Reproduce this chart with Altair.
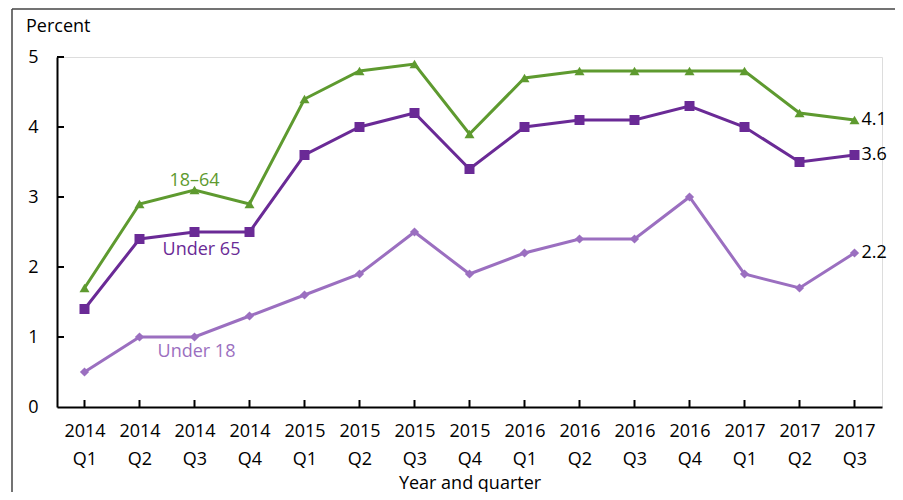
import altair as alt
import pandas as pd

quarters = ["2014 Q1", "2014 Q2", "2014 Q3", "2014 Q4",
            "2015 Q1", "2015 Q2", "2015 Q3", "2015 Q4",
            "2016 Q1", "2016 Q2", "2016 Q3", "2016 Q4",
            "2017 Q1", "2017 Q2", "2017 Q3"]
age_18_64 = [1.7, 2.9, 3.1, 2.9, 4.4, 4.8, 4.9, 3.9, 4.7, 4.8, 4.8, 4.8, 4.8, 4.2, 4.1]
under_65 = [1.4, 2.4, 2.5, 2.5, 3.6, 4.0, 4.2, 3.4, 4.0, 4.1, 4.1, 4.3, 4.0, 3.5, 3.6]
under_18 = [0.5, 1.0, 1.0, 1.3, 1.6, 1.9, 2.5, 1.9, 2.2, 2.4, 2.4, 3.0, 1.9, 1.7, 2.2]
y_ticks = [0, 1, 2, 3, 4, 5]

series_names = ["18–64", "Under 65", "Under 18"]
series_vals = [age_18_64, under_65, under_18]
colors = ["#5e9a2f", "#6a2a96", "#9b6fc0"]
shapes = ["triangle-up", "square", "diamond"]
sizes = [100, 100, 85]

FONT = "Open Sans"
FS = 18
W, H = 825, 350

xscale = alt.Scale(type="point", domain=quarters, padding=0.5)
xenc = alt.X("q:N", sort=quarters, scale=xscale,
             axis=alt.Axis(title="Year and quarter", labelExpr="split(datum.label, ' ')",
                           labelAngle=0, labelFontSize=FS, labelLineHeight=28,
                           labelPadding=15, labelBaseline="top", labelColor="black",
                           labelFont=FONT, ticks=False, domainColor="black",
                           domainWidth=2, titleFont=FONT, titleFontSize=FS,
                           titleFontWeight="normal", titlePadding=6, titleColor="black",
                           labelFlush=False, labelOverlap=False))
yscale = alt.Scale(domain=[0, 5], nice=False)

layers = []
for name, vals, c, sh, sz in zip(series_names, series_vals, colors, shapes, sizes):
    df = pd.DataFrame({"q": quarters, "v": vals})
    base = alt.Chart(df)
    line = base.mark_line(color=c, strokeWidth=3).encode(
        x=xenc,
        y=alt.Y("v:Q", scale=yscale,
                axis=alt.Axis(title=None, values=y_ticks, ticks=False, grid=False, format="d",
                              labelFontSize=FS, labelFont=FONT, labelColor="black",
                              labelPadding=19, domainColor="black", domainWidth=2)))
    pts = base.mark_point(shape=sh, filled=True, opacity=1, color=c, size=sz).encode(
        x=alt.X("q:N", sort=quarters, scale=xscale), y=alt.Y("v:Q", scale=yscale))
    layers += [line, pts]

# end labels
end_df = pd.DataFrame({"q": [quarters[-1]] * 3,
                       "v": [age_18_64[-1], under_65[-1], under_18[-1]],
                       "t": [f"{age_18_64[-1]:.1f}", f"{under_65[-1]:.1f}", f"{under_18[-1]:.1f}"]})
layers.append(alt.Chart(end_df).mark_text(align="left", baseline="middle", dx=7,
                                          fontSize=FS, font=FONT, color="black").encode(
    x=alt.X("q:N", sort=quarters, scale=xscale), y=alt.Y("v:Q", scale=yscale), text="t:N"))

# series labels
lab_q = ["2014 Q3", "2014 Q3", "2014 Q3"]
lab_v = [3.23, 2.24, 0.79]
lab_dx = [0, 7, 2]
for name, q, v, c, dx in zip(series_names, lab_q, lab_v, colors, lab_dx):
    ldf = pd.DataFrame({"q": [q], "v": [v], "t": [name]})
    layers.append(alt.Chart(ldf).mark_text(align="center", baseline="middle", dx=dx,
                                           fontSize=FS, font=FONT, color=c).encode(
        x=alt.X("q:N", sort=quarters, scale=xscale), y=alt.Y("v:Q", scale=yscale), text="t:N"))

# inward ticks
xt = pd.DataFrame({"q": quarters})
layers.append(alt.Chart(xt).mark_rule(color="black", strokeWidth=2).encode(
    x=alt.X("q:N", sort=quarters, scale=xscale), y=alt.value(H - 7), y2=alt.value(H)))
yt = pd.DataFrame({"v": y_ticks[1:]})
layers.append(alt.Chart(yt).mark_rule(color="black", strokeWidth=2).encode(
    y=alt.Y("v:Q", scale=yscale), x=alt.value(0), x2=alt.value(7)))

# y title
layers.append(alt.Chart(pd.DataFrame({"t": ["Percent"]})).mark_text(
    align="left", baseline="middle", fontSize=FS, font=FONT, color="black").encode(
    x=alt.value(-31), y=alt.value(-30), text="t:N"))

# outer frame
frame = alt.Chart(pd.DataFrame({"a": [0]}))
layers.append(frame.mark_rule(color="#444", strokeWidth=1.5).encode(
    x=alt.value(-45), x2=alt.value(-45), y=alt.value(-48), y2=alt.value(H + 100)))
layers.append(frame.mark_rule(color="#444", strokeWidth=1.5).encode(
    x=alt.value(842), x2=alt.value(842), y=alt.value(-48), y2=alt.value(H + 100)))
layers.append(frame.mark_rule(color="#444", strokeWidth=1.5).encode(
    x=alt.value(-45), x2=alt.value(842), y=alt.value(-48), y2=alt.value(-48)))

chart = alt.layer(*layers).properties(
    width=W, height=H,
    autosize=alt.AutoSizeParams(type="none"),
    padding={"left": 49, "top": 49, "right": 13, "bottom": 85},
).configure_view(stroke=None).configure(background="white")

chart.save("out.html", embed_options={"renderer": "svg", "actions": False})
